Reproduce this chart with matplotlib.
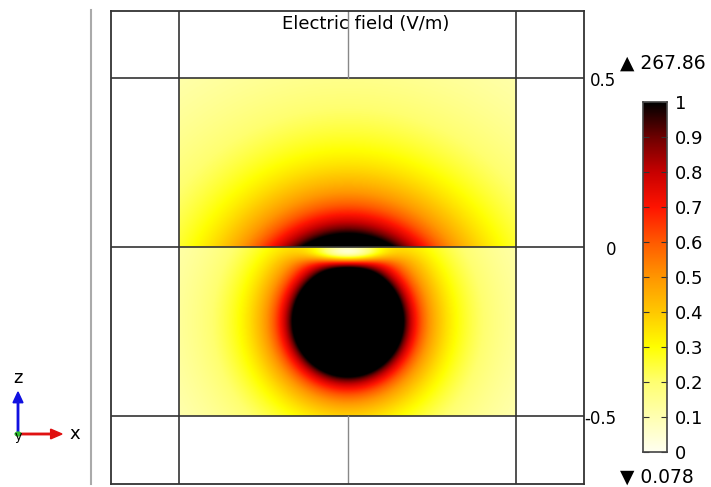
import numpy as np
import matplotlib
matplotlib.use("Agg")
import matplotlib.pyplot as plt
from matplotlib.colors import LinearSegmentedColormap

# colour scale stops (normalised field -> rgb)
cmap_pos = [0.0, 0.1, 0.2, 0.3, 0.4, 0.5, 0.6, 0.7, 0.8, 0.9, 1.0]
cmap_rgb = ["#fffff0", "#ffffb0", "#ffff70", "#ffff00", "#ffc800", "#ff9600",
            "#ff5a00", "#ff1400", "#c80000", "#6e0000", "#000000"]

cbar_ticks = [0, 0.1, 0.2, 0.3, 0.4, 0.5, 0.6, 0.7, 0.8, 0.9, 1]
cbar_labels = ["0", "0.1", "0.2", "0.3", "0.4", "0.5", "0.6", "0.7", "0.8", "0.9", "1"]
e_max = "267.86"
e_min = "0.078"

z_ticks = [0.5, 0, -0.5]
z_labels = ["0.5", "0", "-0.5"]

# field model: source centre below the interface, radii where |E| hits the top of the scale
src = (0.0, -0.22)
r_low, n_low = 0.165, 1.8     # below z=0
r_up, n_up = 0.26, 1.8        # above z=0
notch = (0.0, -0.012, 0.115, 0.03, 0.93)   # x, z, wx, wz, depth of the low-field spot

dom = [-0.5, 0.5, -0.5, 0.5]
lim = 0.7

x = np.linspace(dom[0], dom[1], 500)
z = np.linspace(dom[2], dom[3], 500)
X, Z = np.meshgrid(x, z)
R = np.hypot(X - src[0], Z - src[1])
lower = (r_low / R) ** n_low
lower = lower * (1 - notch[4] * np.exp(-((X - notch[0]) / notch[2]) ** 2
                                       - ((Z - notch[1]) / notch[3]) ** 2))
upper = (r_up / R) ** n_up
E = np.clip(np.where(Z >= 0, upper, lower), 0, 1)

cmap = LinearSegmentedColormap.from_list("heat", list(zip(cmap_pos, cmap_rgb)))

fig = plt.figure(figsize=(7.11, 4.87), dpi=100)
ax = fig.add_axes([111 / 711, 3 / 487, 473 / 711, 474 / 487])
ax.imshow(E, extent=dom, origin="lower", cmap=cmap, vmin=0, vmax=1,
          interpolation="bilinear")
ax.set_xlim(-lim, lim)
ax.set_ylim(-lim, lim)
ax.set_xticks([])
ax.set_yticks([])
for s in ax.spines.values():
    s.set_linewidth(1.3)
    s.set_color("#333333")

# geometry edges
for v in [-0.5, 0.5]:
    ax.axvline(v, color="#333333", lw=1.2)
for h in z_ticks:
    ax.axhline(h, color="#333333", lw=1.2)
ax.plot([0, 0], [0.5, lim], color="#888888", lw=1)
ax.plot([0, 0], [-lim, -0.5], color="#888888", lw=1)

for t, lab in zip(z_ticks, z_labels):
    ax.text(0.795, t - 0.01, lab, ha="right", va="center", fontsize=12,
            clip_on=False)

ax.text(0.053, 0.66, "Electric field (V/m)", ha="center", va="center", fontsize=13)

# separator line on the left
fig.add_artist(plt.Line2D([91 / 711, 91 / 711], [3 / 487, 477 / 487], color="#aaaaaa", lw=1.5))

# axis triad
ox, oy = 18 / 711, (487 - 434) / 487
fig.add_artist(matplotlib.patches.FancyArrow(ox, oy, 0, 42 / 487, width=0.002,
               head_width=0.014, head_length=0.022, color="#1010e0",
               length_includes_head=True))
fig.add_artist(matplotlib.patches.FancyArrow(ox, oy, 44 / 711, 0, width=0.003,
               head_width=0.02, head_length=0.016, color="#e01010",
               length_includes_head=True))
fig.add_artist(matplotlib.patches.Circle((ox, oy), 0.004, color="#30c030"))
fig.text(ox, (487 - 378) / 487, "z", ha="center", va="center", fontsize=13)
fig.text(75 / 711, oy, "x", ha="center", va="center", fontsize=13)
fig.text(ox, oy - 0.005, "y", ha="center", va="center", fontsize=9)

# colour bar
cax = fig.add_axes([643 / 711, 35 / 487, 24 / 711, 350 / 487])
grad = np.linspace(0, 1, 256).reshape(-1, 1)
cax.imshow(grad, extent=[0, 1, 0, 1], origin="lower", aspect="auto", cmap=cmap)
cax.set_xticks([])
cax.set_yticks(cbar_ticks)
cax.set_yticklabels(cbar_labels, fontsize=13)
cax.tick_params(axis="y", direction="in", length=4, right=True, left=True,
                labelleft=False, labelright=True, pad=6, color="#333333")
for s in cax.spines.values():
    s.set_linewidth(1.2)
    s.set_color("#444444")

fig.text(620 / 711, (487 - 63) / 487, "\u25b2 " + e_max, ha="left", va="center", fontsize=13.5)
fig.text(620 / 711, (487 - 477) / 487, "\u25bc " + e_min, ha="left", va="center", fontsize=13.5)

fig.savefig("out.png", dpi=100)
